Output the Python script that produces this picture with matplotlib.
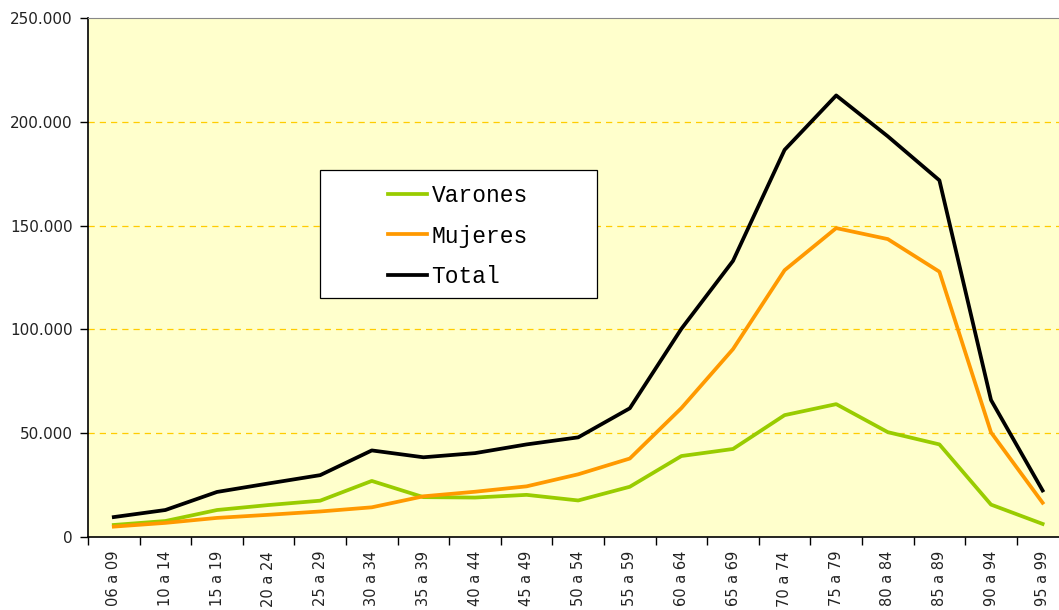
import matplotlib
matplotlib.use("Agg")
import matplotlib.pyplot as plt
from matplotlib.ticker import FixedLocator, FuncFormatter
from matplotlib.patches import Rectangle

categories = ["06 a 09", "10 a 14", "15 a 19", "20 a 24", "25 a 29", "30 a 34", "35 a 39",
              "40 a 44", "45 a 49", "50 a 54", "55 a 59", "60 a 64", "65 a 69", "70 a 74",
              "75 a 79", "80 a 84", "85 a 89", "90 a 94", "95 a 99"]
varones = [5800, 7700, 13000, 15400, 17500, 27000, 19200, 19000, 20300, 17600, 24200,
           39000, 42400, 58700, 64000, 50500, 44600, 15600, 6300]
mujeres = [5000, 6800, 9200, 10700, 12300, 14300, 19600, 21800, 24400, 30200, 37800,
           62100, 90500, 128500, 148800, 143500, 127800, 50400, 16500]
total = [9600, 13000, 21700, 25800, 29800, 41700, 38400, 40400, 44600, 48000, 62000,
         100300, 133000, 186500, 212700, 193000, 171800, 66000, 22400]
yticks = [0, 50000, 100000, 150000, 200000, 250000]

W, H = 1059, 610
fig = plt.figure(figsize=(W / 100, H / 100), dpi=100)
fig.patch.set_facecolor("white")
left, right, top, bottom = 88, 1068.4, 18, 537
ax = fig.add_axes([left / W, 1 - bottom / H, (right - left) / W, (bottom - top) / H])
ax.set_facecolor("#FFFFCC")

x = list(range(len(categories)))
lw = 2.7
ax.plot(x, varones, color="#99CC00", lw=lw, label="Varones")
ax.plot(x, mujeres, color="#FF9900", lw=lw, label="Mujeres")
ax.plot(x, total, color="#000000", lw=lw, label="Total")

ax.set_xlim(-0.5, len(categories) - 0.5)
ax.set_ylim(0, 250000)

for v in yticks[1:-1]:
    ax.axhline(v, color="#FFCC00", lw=0.9, ls=(0, (5, 4)), zorder=0.5)

ax.set_yticks(yticks)
ax.yaxis.set_major_formatter(FuncFormatter(lambda v, p: "0" if v == 0 else f"{int(v/1000)}.000"))
ax.tick_params(axis="y", direction="out", length=6, width=1, labelsize=11, colors="#000000",
               labelcolor="#222222", pad=5)

ax.xaxis.set_major_locator(FixedLocator([i - 0.5 for i in range(len(categories) + 1)]))
ax.xaxis.set_minor_locator(FixedLocator(x))
ax.xaxis.set_major_formatter(FuncFormatter(lambda v, p: ""))
ax.set_xticks(x, categories, minor=True)
ax.tick_params(axis="x", which="major", direction="out", length=6, width=1)
ax.tick_params(axis="x", which="minor", length=0, labelsize=10.5, labelrotation=90,
               labelcolor="#222222", pad=10)

for s in ["left", "bottom"]:
    ax.spines[s].set_color("black")
    ax.spines[s].set_linewidth(1.2)
ax.spines["top"].set_color("#888888")
ax.spines["right"].set_visible(False)

fig.text(0.53, 1 - 3 / H, "Números absolutos", ha="center", va="bottom", fontsize=12,
         color="#888888")

# legend frame (as in the reference, wider than its content)
fig.add_artist(Rectangle((320 / W, 1 - 298 / H), 277 / W, 128 / H, transform=fig.transFigure,
                         facecolor="white", edgecolor="black", lw=0.9, zorder=3))
leg = fig.legend(loc="center left", bbox_to_anchor=(388 / W, 1 - 236 / H),
                 prop={"family": "Liberation Mono", "size": 16.5}, frameon=False,
                 handlelength=1.7, handletextpad=0.2, borderpad=0, labelspacing=0.78,
                 borderaxespad=0)
leg.set_zorder(4)
fig.savefig("out.png", dpi=100)
